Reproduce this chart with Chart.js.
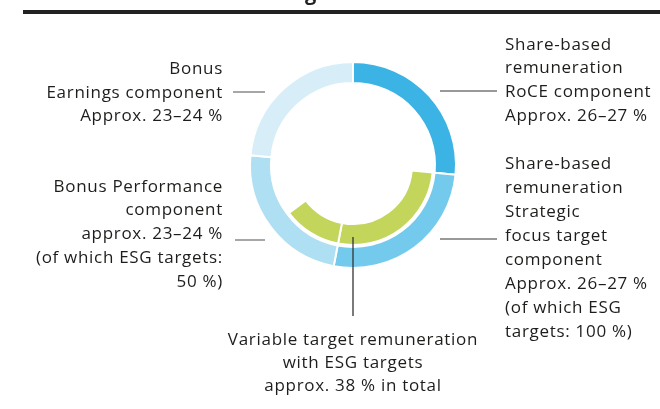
<!DOCTYPE html>
<html>
<head>
<meta charset="utf-8">
<script src="https://cdn.jsdelivr.net/npm/chart.js@4/dist/chart.umd.min.js"></script>
<style>
  html, body { margin: 0; padding: 0; background: #fff; }
  #wrap { position: relative; width: 660px; height: 409px; }
</style>
</head>
<body>
<div id="wrap"><canvas id="grafico" width="660" height="409"></canvas></div>
<script>
// components of the variable target remuneration, clockwise from 12 o'clock
var componentes = ['RoCE component', 'Strategic focus target component', 'Bonus Performance component', 'Bonus Earnings component'];
var porcentajes = [26.5, 26.5, 23.5, 23.5];
var colores = ['#3bb3e4', '#74caec', '#afdff3', '#d7eef9'];

// ESG share of each component (inner ring): strategic 100 %, performance 50 %
var esgPartes = ['', 'Strategic ESG', 'Performance ESG', ''];
var esgValores = [26.5, 26.5, 11.75, 35.25];
var colorEsg = '#c3d55a';

// annotation texts
var textoRoce = ['Share-based', 'remuneration', 'RoCE component', 'Approx. 26\u201327 %'];
var textoEstrategico = ['Share-based', 'remuneration', 'Strategic', 'focus target', 'component', 'Approx. 26\u201327 %', '(of which ESG', 'targets: 100 %)'];
var textoEarnings = ['Bonus', 'Earnings component', 'Approx. 23\u201324 %'];
var textoPerformance = ['Bonus Performance', 'component', 'approx. 23\u201324 %', '(of which ESG targets:', '50 %)'];
var textoTotal = ['Variable target remuneration', 'with ESG targets', 'approx. 38 % in total'];

var fuente = '500 17px "Open Sans"';

function bloque(ctx, lineas, x, y, paso, align){
    ctx.textAlign = align;
    for(var i = 0; i < lineas.length; i++){
        ctx.fillText(lineas[i], x, y + i * paso);
    }
}

function linea(ctx, x1, y1, x2, y2, color){
    ctx.strokeStyle = color;
    ctx.lineWidth = 1.3;
    ctx.beginPath();
    ctx.moveTo(x1, y1);
    ctx.lineTo(x2, y2);
    ctx.stroke();
}

var anotaciones = {
    id: 'anotaciones',
    afterDraw: function(chart){
        var ctx = chart.ctx;
        var arco = chart.getDatasetMeta(0).data[0];
        var cx = arco.x, cy = arco.y;
        ctx.save();
        // top rule and the tail of the cut title
        ctx.fillStyle = '#222';
        ctx.fillRect(23, 10, 637, 4);
        ctx.font = 'bold 20px "Open Sans"';
        ctx.textAlign = 'left';
        ctx.textBaseline = 'alphabetic';
        ctx.fillText('g', 305, 0);

        // leader lines
        linea(ctx, cx - 120, cy - 73, cx - 88, cy - 73, '#777');
        linea(ctx, cx - 118, cy + 75, cx - 88, cy + 75, '#777');
        linea(ctx, cx + 87, cy - 74, cx + 144, cy - 74, '#777');
        linea(ctx, cx + 87, cy + 74, cx + 144, cy + 74, '#777');
        linea(ctx, cx, cy + 72, cx, cy + 151, '#333');

        ctx.fillStyle = '#1d1d1b';
        ctx.font = fuente;
        ctx.letterSpacing = '0.7px';
        bloque(ctx, textoRoce, 505, 49.5, 23.7, 'left');
        bloque(ctx, textoEstrategico, 505, 168.5, 24, 'left');
        bloque(ctx, textoEarnings, 223, 74, 23.5, 'right');
        bloque(ctx, textoPerformance, 223, 191.5, 23.8, 'right');
        bloque(ctx, textoTotal, cx, 345, 23, 'center');
        ctx.restore();
    }
};

var chartdata = {
    labels: componentes,
    datasets: [{
        label: 'Components',
        data: porcentajes,
        backgroundColor: colores,
        borderColor: '#fff',
        borderWidth: 2,
        weight: 21
    }, {
        label: 'gap',
        data: [100],
        backgroundColor: 'rgba(0,0,0,0)',
        borderWidth: 0,
        weight: 2
    }, {
        label: 'ESG targets',
        data: esgValores,
        backgroundColor: esgValores.map(function(v, i){ return esgPartes[i] ? colorEsg : 'rgba(0,0,0,0)'; }),
        borderColor: '#fff',
        borderWidth: esgValores.map(function(v, i){ return esgPartes[i] ? 2 : 0; }),
        weight: 21
    }]
};

var grafico = new Chart(document.getElementById('grafico'), {
    type: 'doughnut',
    data: chartdata,
    options: {
        responsive: false,
        devicePixelRatio: 1,
        animation: false,
        cutout: 59,
        hoverOffset: 0,
        layout: { padding: { left: 249, right: 203, top: 61, bottom: 140 } },
        plugins: {
            legend: { display: false },
            tooltip: { enabled: false }
        }
    },
    plugins: [anotaciones]
});
</script>
</body>
</html>
